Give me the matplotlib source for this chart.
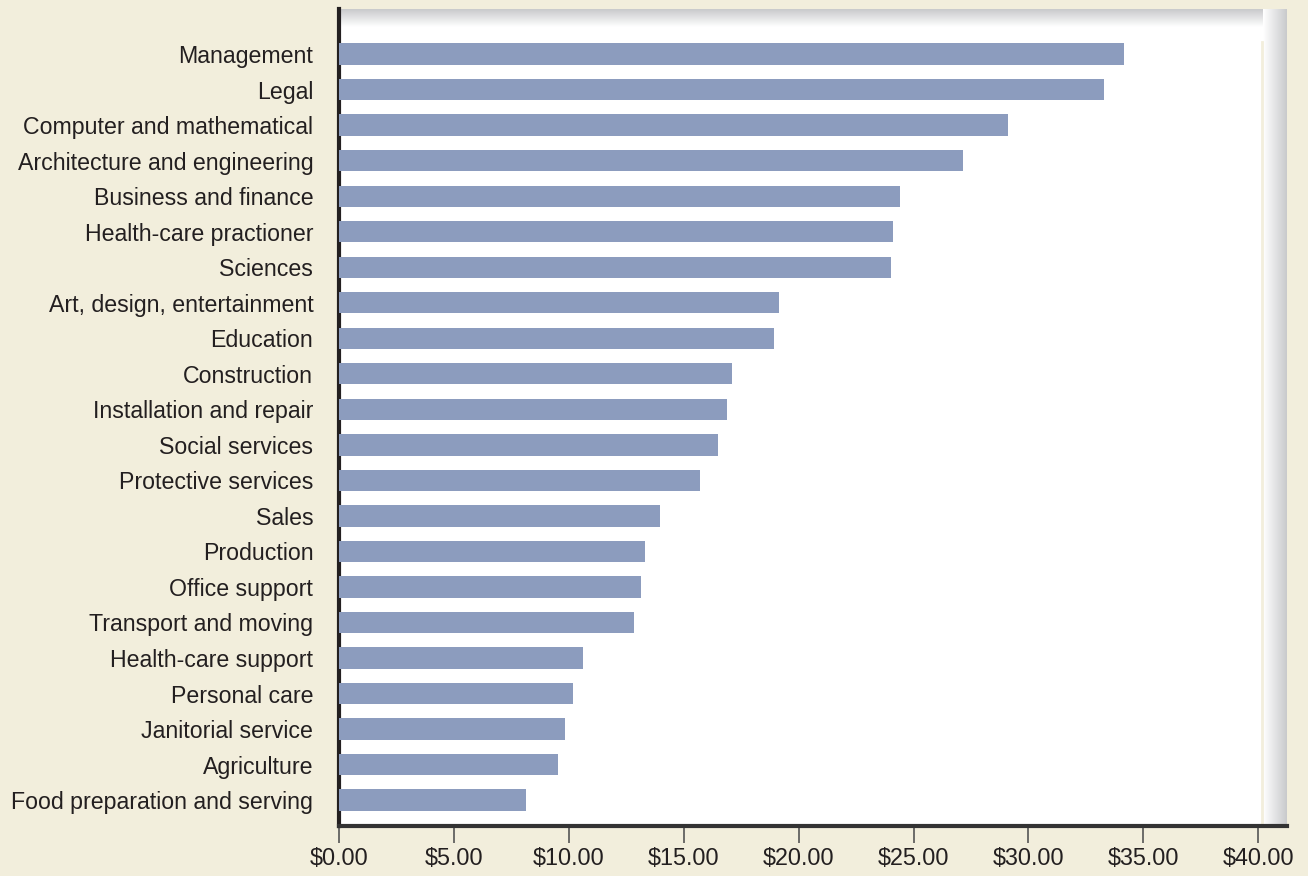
import numpy as np
import matplotlib.pyplot as plt
from matplotlib.colors import LinearSegmentedColormap

occupations = [
    'Management', 'Legal', 'Computer and mathematical',
    'Architecture and engineering', 'Business and finance',
    'Health-care practioner', 'Sciences', 'Art, design, entertainment',
    'Education', 'Construction', 'Installation and repair',
    'Social services', 'Protective services', 'Sales', 'Production',
    'Office support', 'Transport and moving', 'Health-care support',
    'Personal care', 'Janitorial service', 'Agriculture',
    'Food preparation and serving',
]
hourly_wage = [
    34.16, 33.29, 29.11, 27.15, 24.41, 24.11, 24.02, 19.15,
    18.93, 17.10, 16.88, 16.49, 15.71, 13.97, 13.32, 13.14,
    12.84, 10.62, 10.18, 9.83, 9.53, 8.13,
]
tick_values = [0, 5, 10, 15, 20, 25, 30, 35, 40]
tick_labels = ['$%.2f' % v for v in tick_values]

plt.rcParams['font.family'] = ['Liberation Sans', 'DejaVu Sans']
cream = '#f2eedc'
text_col = '#231f20'

fig = plt.figure(figsize=(13.08, 8.76), dpi=100, facecolor=cream)
ax = fig.add_axes([339 / 1308, 50 / 876, 948 / 1308, 817 / 876])
ax.set_facecolor('white')

y = np.arange(len(occupations))
ax.barh(y, hourly_wage, height=0.6, color='#8c9cbe', zorder=3)

ax.set_xlim(0, 41.25)
ax.set_ylim(len(occupations) - 1 + 0.73, -1.27)

ax.set_yticks(y)
ax.set_yticklabels(occupations, fontsize=16.7, color=text_col)
ax.tick_params(axis='y', length=0, pad=18.5)
ax.set_xticks(tick_values)
ax.set_xticklabels(tick_labels, fontsize=16.8, color=text_col)
ax.tick_params(axis='x', direction='out', length=12, width=1.2,
               color='#555555', pad=3)

for side in ['top', 'right']:
    ax.spines[side].set_visible(False)
ax.spines['left'].set_linewidth(3)
ax.spines['left'].set_color(text_col)
ax.spines['bottom'].set_linewidth(3)
ax.spines['bottom'].set_color('#333333')

# shaded frame edges (top and right)
shade = LinearSegmentedColormap.from_list('shade', ['white', '#c9cacc'])
top_grad = np.linspace(0, 1, 50).reshape(-1, 1)
ax.imshow(top_grad, cmap=shade, aspect='auto', transform=ax.transAxes,
          extent=(0, 0.975, 0.978, 1.0), zorder=1, origin='lower')
right_grad = np.linspace(0, 1, 50).reshape(1, -1)
ax.imshow(right_grad, cmap=shade, aspect='auto', transform=ax.transAxes,
          extent=(0.975, 1.0, 0.0, 1.0), zorder=1)
ax.axvline(0.974 * 41.25, ymin=0, ymax=0.96, color=cream, lw=2, zorder=2)

fig.savefig('out.png', dpi=100, facecolor=cream)
